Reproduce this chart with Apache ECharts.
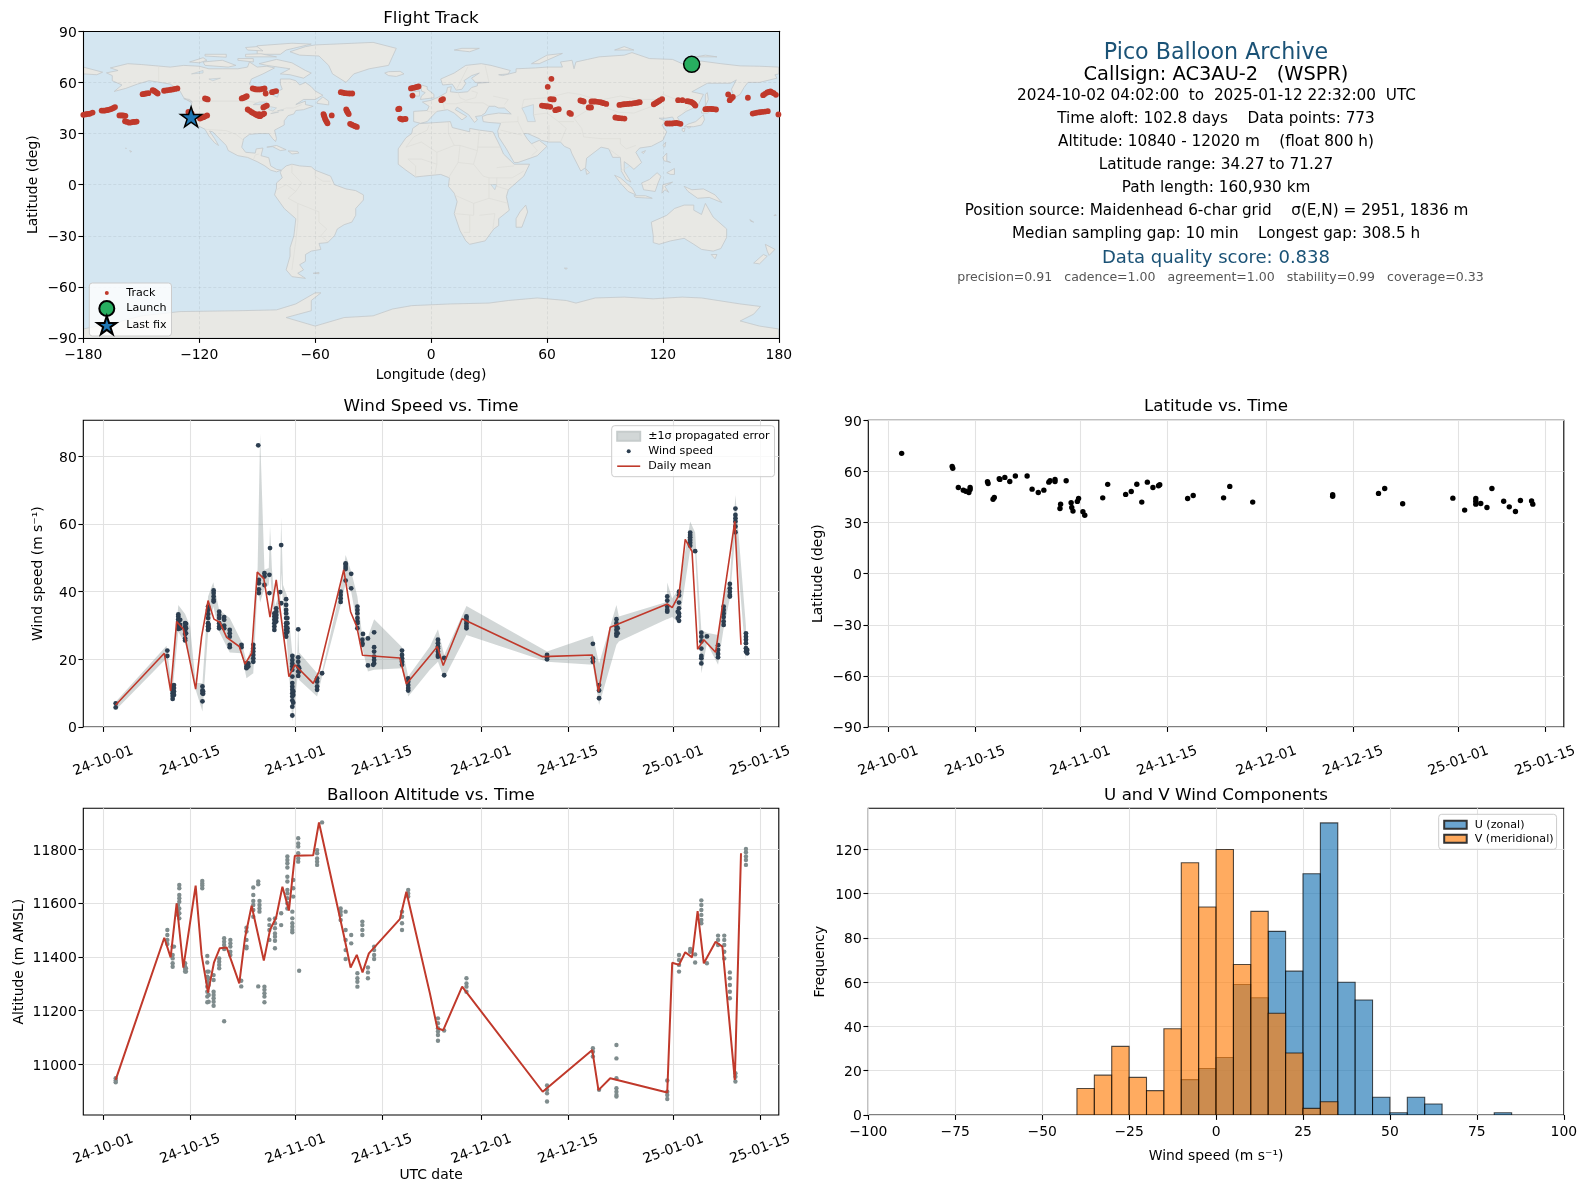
<!DOCTYPE html>
<html>
<head>
<meta charset="utf-8">
<style>html,body{margin:0;padding:0;background:#fff}#c{width:1586px;height:1189px}</style>
<script src="https://cdn.jsdelivr.net/npm/echarts@6/dist/echarts.min.js"></script>
</head>
<body>
<div id="c"></div>
<script>
// ---------- tick labels ----------
const timeTickDays = [0, 14, 31, 45, 61, 75, 92, 106]; // days since 2024-10-01
const timeTickLabels = ['24-10-01','24-10-15','24-11-01','24-11-15','24-12-01','24-12-15','25-01-01','25-01-15'];
const windTicks = [0, 20, 40, 60, 80];
const altTicks = [11000, 11200, 11400, 11600, 11800];
const freqTicks = [0, 20, 40, 60, 80, 100, 120];

// ---------- flight track (lon, lat) ----------
const track = [[-180,41],[-179,41.2],[-178.3,41.4],[-177.4,41.5],[-176.5,41.7],[-175.2,42.3],[-170.5,43.5],[-169.6,43.5],[-168.8,43.5],[-167.9,43.7],[-167,43.9],[-166.1,44.2],[-165.3,44.5],[-164.4,45],[-163.6,45.5],
[-161.3,40.6],[-160.4,40.6],[-159.6,40.6],[-158.9,40.5],[-158.2,40.4],[-158.4,37.2],[-157.3,36.8],[-156.2,36.4],[-155.1,36.6],[-154.1,36.8],[-153.2,36.9],[-152.4,37],[-149.3,53.1],[-148.4,53.3],[-147.5,53.5],[-146.3,53.7],
[-144.1,55.5],[-143.5,55.1],[-142.9,54.7],[-142.2,54.1],[-141.5,53.5],[-138.2,55.1],[-137.1,55.3],[-136,55.5],[-134.8,55.7],[-133.7,55.9],[-132.5,56.2],[-131.3,56.5],[-125.6,42.7],[-123.9,41.7],[-119.6,38.8],[-118.7,39.2],
[-117.8,39.6],[-116.9,40.1],[-115.9,40.6],[-117,50.6],[-116.3,50.3],[-115.6,50],[-98,50.6],[-97.3,50.9],[-96.6,51.2],[-96,51.5],[-95.4,51.9],[-94.9,44.1],[-93.8,43.3],[-92.8,42.5],[-92,42],[-91.1,41.4],[-90.2,40.9],[-89.4,40.4],[-90.5,41.2],[-89,41.4],[-88.5,40.2],
[-88.1,40.8],[-87.2,41.2],[-86.4,41.7],[-86.8,45.3],[-85.9,45.9],[-85,46.4],[-92.3,56.5],[-91.4,56.2],[-90.6,55.9],[-89.5,55.9],[-88.5,55.9],[-87.3,56.2],[-86.2,56.5],[-85.6,53.5],[-82.3,54.3],[-81.3,54.6],[-80.2,54.9],
[-46.7,54.3],[-45.6,54],[-44.5,53.7],[-43.4,53.6],[-42.2,53.5],[-40.8,53.5],[-51.4,40.6],[-55.7,41.4],[-55.4,40.6],[-55.2,39.8],[-54.9,38.8],[-54.5,37.8],[-54,36.9],[-53.6,36],[-43.9,44.1],[-43.6,43.4],[-43.3,42.7],
[-42.9,42],[-42.6,41.4],[-41.9,35.7],[-41,35.2],[-40.1,34.7],[-39.2,34.3],[-38.4,33.9],[-17,44.3],[-16.4,44.6],[-16,38.8],[-15.4,38.5],[-14.8,38.2],[-14,38.4],[-13.2,38.6],[-10.4,56.5],[-9.4,56.8],[-8.5,57],[-7.5,57.3],[-6.5,57.6],[-9.6,52.3],
[5.3,49.6],[6.2,50.2],[62.3,62.1],[60.4,57.4],[57.4,46.4],[58.5,46.2],[59.7,46],[60.7,45.9],[61.7,45.7],[61.7,50.2],[62.6,50.1],[63.5,50],[64.3,43.7],[65.2,44],[66.1,44.3],[71.6,42.1],[72.4,41.5],
[77.3,49.4],[78.2,49.1],[79,48.8],[81.6,45.3],[82.2,45.3],[82.8,45.3],[83,48.8],[84,48.8],[85,48.8],[86.3,48.6],[87.6,48.4],[88.5,48.1],[89.4,47.8],[90.7,47.4],[95.4,39.4],[96.5,39.2],[97.5,39],[98.8,38.9],[100.1,38.8],
[97.5,46.8],[98.6,47],[99.7,47.2],[100.7,47.3],[101.8,47.4],[102.9,47.5],[104,47.6],[105.1,47.8],[106.3,48],[107.2,48.2],[108,48.4],[115.3,47.2],[116.2,47.8],[117,48.4],[117.7,48.9],[118.4,49.4],[119.6,50.2],[127.9,49.6],[130.1,49.6],
[132.5,49],[133.5,48.8],[134.6,48.6],[135.3,48.1],[136,47.6],[136.4,47],[136.8,46.4],[122.2,35.9],[123.5,35.9],[124.8,35.9],[125.9,36.1],[127,36.3],[128,36],[129.1,35.7],[142,44.3],[143.1,44.4],[144.3,44.5],[145.3,44.4],[146.3,44.3],[147.5,44.1],
[153.8,52.9],[154.6,49.6],[155.4,50.5],[156.2,51.5],[164,51],[171.9,52.5],[172.9,53.3],[174,54.1],[174.9,54.4],[175.7,54.7],[176.5,54.2],[177.4,53.7],[178.5,52.7],[166.5,41.7],[167.6,42],[168.8,42.3],[170.1,42.5],[171.4,42.7],[172.9,42.9],[174.3,43.1],[179.8,41.2]];
const launchPoint = [134.9, 70.6];
const lastFixPoint = [-124.2, 39.8];

// ---------- latitude vs time (day, lat) ----------
const latPoints = [[2.15,70.6],[10.3,62.9],[10.4,61.9],[11.3,50.6],[12.1,49],[12.5,48.4],[13,47.6],[13.2,49.4],[13.2,50.6],[16,53.9],[16.1,52.9],[17.1,44.7],[16.9,43.7],
[17.9,55.7],[18,55.3],[18.8,56.5],[19.6,54.1],[20.5,57.3],[22.4,57.3],[23.2,49.6],[24.2,47.6],[25.1,49],[25.9,53.7],[26.1,54.5],[26.9,55.3],[26.9,54.1],[28.7,54.5],
[27.8,40.8],[27.7,38.2],[29.5,41.6],[29.6,38.8],[29.8,36.7],[30.5,42.4],[30.7,44.1],[31.4,36.3],[31.7,34.3],[34.6,44.5],[35.4,52.4],[38.3,46.5],[39.2,48.2],[40.1,52.5],
[40.9,42],[41.8,53.7],[42.7,50.6],[43.6,51.6],[43.8,52.2],[48.3,44.1],[49.2,45.9],[54.1,44.5],[55.1,51.2],[58.8,42],[71.7,45.4],[71.7,46.3],[79.1,47.1],[80.1,50],[83,41],
[91.1,44.3],[93,37.3],[94.8,44.1],[94.8,42.5],[94.8,40.8],[95.6,41.2],[96.6,38.8],[97.4,50],[99.3,42.5],[100.2,39.2],[101.2,36.5],[102,42.9],[103.8,42.7],[104,40.8]];

// ---------- wind speed ----------
const windDays = [2,10.33,11.19,11.4,12.1,12.4,13.2,13.34,16,16.1,16.9,17,17.8,18.7,19.5,20.4,22.3,23.1,23.4,24.2,25,25.1,26,26.8,26.9,27.6,27.9,28.55,28.7,29.5,29.7,30.5,30.65,31.45,31.6,34.5,35.3,38.3,39.1,40,41,41.8,41.9,42.7,43.7,43.55,48.2,49.2,
54,55,58.6,71.6,79,80,82.8,83,91,92.9,92.7,94.7,95.5,96.5,97.4,99.2,100.1,101.1,102,103.7,103.9];
const windValues = [[7,5.8],[22.6,21],[12.1,11.5,10.8,10,9.2,8.3],[12.4,11.5,10.5,9.5],[33.3,32.7,31.9,31.1,30.2,29],[31.7,30.2,29.2],[30.7,29.7,28.7,27.5,26.2,25.6],[30.5,29.2,27.7],
[12,10.8,10,7.6],[10.5,9.8],[35.6,34.6,33.4,32.2,30.7,29.7,28.7],[30.2,29.2],[40.4,39.6,38.6,37.6,37.1],[34.1,33.1,32.2,30.7,29.7,29.2],[32.5,31.7,30,29.2],[28.7,27.7,26.7,24.3,23.6],[24.3,23.6],
[18.8,17.9,17.4],[18.8,17.9],[24.3,23.3,22.3,21.3,20.3,19.3],[83.3],[43.5,42.5,40.7,39.6],[45.5,44.5,42],[45,39.6],[52.9],[28.7,29.7,30.7,31.7,32.7,33.6],[35.1,34.1,33.1,32.2,31.2],[39.9],[53.8,36.6],
[37.8,36.1,34.6,33.6,32.2,30.7,29.7,28.7,27.7,26.7],[32.2,30.7,29.2,28.2],[21,19.8,18.8,17.9,16.9,14.9,13,11.9,11,10,9,7.8,6,3.4],[10.5,9.5,7.2],[28.9,20.6,19.3,17.9,16.4,15.1],[17.4,16.4],
[14.4,13.4,12,11],[15.9],[40,39,38,37],[48.4,48,47.3,46.7,43.3],[45.3,41],[35.6,34.6,33.6,32.2,31.2,30.7,29.2],[25.8,24.8,24.3],[27.5],[26.2,18.2],[28,23.6,22.3,20.8,19.8,18.8],[18.4],[22.6,21.3,20.3,19.3,18.4],[14.4,13.4,12.4,11.5,10.8],
[25.8,24.8,23.8,23.3,22.3,21.3,20.8],[20.4,15.3],[32.7,32.2,31.5,30.7,29.9,29.2],[21.3,20.6,20],[24.6,20.3,19.3],[12.4,10.8,8.5],[31.9,30.7,29.7,28.7,27.7,27],[29.2,27.7],[38.6,37.4,35.6,34.6,34.1],[40,38.9,36.8,35.1,33.6,32.7,31.4],[34.1,32.2],
[57.5,56.8,56.1,55.3,54.5,53.6],[52],[27.9,26.7,25.3,23.2,21,20.3,18.8],[26.8],[24.2,22.8,21.6,20.6],[35.6,34.6,33.6,32.5,31.2,30.2],[42.3,41,40,39,38.6],[64.6,62.7,61.7,60.8,59.3,57.6],[27.7,26.7,25.8,24.8,23.3,22.3],[22.8,21.8]];
const bandDays = [2,10.2,11,12.1,13.2,14,14.9,16,16.9,17.75,18.7,20.4,22.3,23.1,24.2,24.9,25.3,26,26.7,26.9,27.2,27.7,28.5,28.7,29,29.6,30.5,31.3,31.45,31.6,34.5,35.3,38.3,39.1,40,41,41.8,42.7,43.7,48.2,49.2,52.7,54,55,58.6,71.6,79,80,82.8,83.2,90.9,91,91.8,92.9,94.7,95.5,96.5,97.4,99.2,100.1,101.1,102,103.7];
const bandLow = [5,20.3,7.5,28.2,24.8,19.8,11,4.6,27.7,35.6,28.2,22,21.8,14.4,15.9,42,36.8,41,42,46.3,39,27.7,34,45.6,36,25.8,1.6,14,22.8,13.9,9,14.9,36.1,42.5,40,29.7,23.3,16.4,16.9,17.4,9,16.9,19.3,14.4,27.2,19.3,18.4,6.5,24.3,25.3,31.9,31.9,32.5,30.7,52.4,51.4,15.9,24.8,18.4,29.2,38,57.3,19.6];
const bandHigh = [7.5,24,12.9,36.1,33.4,29.7,13,13,38.6,42.8,34.6,32.2,25.3,19.3,25.3,47,86.7,46.5,47,59.5,47,35.6,40,62,42,39,21.8,21,30.7,22,15.9,16.4,41,50.9,46,38.6,26.7,26.7,31.9,23.6,14.9,23.8,28.9,21.3,35.8,22.3,27,18.8,36.1,32.7,37,42.7,38,41,60.8,57.5,28.7,27.9,27.2,39.1,43.5,68.6,29.7];
const windMeanDays = [1.99,9.84,10.86,11.83,12.91,14.9,15.86,16.9,17.85,18.8,19.9,21.94,22.85,23.93,24.84,25.9,26.9,27.9,29.95,30.9,33.87,34.8,38.8,39.9,40.9,41.83,47.85,48.9,52.7,53.9,54.85,57.9,70.9,78.9,79.9,81.8,91,91.8,92.9,93.9,95,95.9,96.9,98.8,101.9,102.9];
const windMean = [6.5,21.8,10.7,31.2,29,11.2,26.7,37.4,31.9,31,26.5,23.8,18.6,21.8,45.8,43.9,32.5,43.5,14.9,18.4,12.9,16.4,46.5,34.1,29.7,21.2,20.4,12.7,21.1,23.8,18.2,32,20.8,21.3,10.5,29.5,36.4,35.3,39.1,55.5,51.9,23,25.8,22.1,60.8,24.3];

// ---------- altitude ----------
const altDays = [2,10.33,11.19,11.4,12.26,12.05,13.2,13.34,15.97,16.78,17,17.8,18.7,19.5,20.5,22.26,23.1,24.2,25,25.2,26,26.8,27.7,28.7,29.7,30.5,30.65,31.45,31.6,34.5,35.3,38.3,39.1,40,41,41.8,42.7,43.7,48.2,49.2,
54,55,58.6,71.6,79,80,82.8,91,92.9,94.7,95.5,96.5,97.4,99.2,100.2,101.1,102,103.7];
const altValues = [[10948,10940,10933],[11500,11481,11463,11448],[11438,11407,11394,11376,11363],[11438],[11667,11655,11630,11618,11605,11580,11562,11543],[11593,11574,11556],[11376,11363,11355,11345],[11357,11345],
[11682,11673,11665,11655],[11403,11379,11345,11326,11307,11289,11270,11252,11231],[11345,11320,11295,11258,11233],[11332,11314,11270,11258,11246,11233,11218],[11394,11382,11370,11357],[11469,11456,11444,11429,11160],[11463,11450,11438,11419,11407],
[11311,11290],[11508,11494,11463,11438,11432],[11658,11630,11608,11593,11574,11549],[11680,11670,11290],[11608,11593,11580,11568],[11289,11277,11264,11252,11231],[11539,11518,11500,11463],[11543,11525,11506,11487,11475,11460,11432],[11562,11518],
[11773,11760,11748,11732,11698,11680,11649,11636,11618,11599,11580],[11568,11543,11525,11512,11500,11491],[11686,11655,11624],[11841,11822,11810,11785,11766,11754],[11348],[11797,11785,11766,11754,11742],[11900],[11580,11568,11556,11537],[11568,11500,11463,11425,11392],[11481,11450],[11339,11320,11307,11289],[11531,11518,11500,11481],[11360,11342,11320],[11438,11425,11407,11392],[11568,11549,11525,11500],[11649,11636,11624],
[11171,11153,11134,11122,11109,11088],[11126],[11320,11301,11289,11270],[10921,10905,10892,10862],[11060,11047,11029],[10905],[11072,11022,10948,10911,10898,10886,10880],[10940,10898,10886,10871],[11407,11388,11370,11345],[11429,11419],[11409,11379],[11610,11593,11574,11556,11537,11525],[11376],[11479,11463,11444],[11479,11463,11444,11419,11394],[11342,11320,11295,11270,11246],[10967,10954,10936],[11801,11789,11773,11760,11742]];
const altMeanDays = [1.99,9.84,10.86,11.83,12.91,14.9,15.86,16.9,17.85,18.8,19.9,21.94,22.85,23.93,25.9,26.9,27.9,28.9,29.95,30.9,33.87,34.8,38.8,39.9,40.9,41.83,42.85,47.85,48.9,52.7,53.9,54.85,57.9,70.9,78.9,79.9,81.8,91,91.8,92.9,93.9,95,95.9,96.9,98.8,99.9,101.9,102.9];
const altMean = [10942,11471,11398,11599,11360,11665,11407,11267,11378,11432,11435,11301,11469,11590,11386,11500,11547,11661,11572,11776,11778,11900,11481,11360,11407,11342,11413,11540,11642,11264,11134,11127,11289,10898,11053,10904,10948,10895,11378,11370,11417,11398,11570,11376,11456,11438,10942,11785];

// ---------- histogram ----------
const histBinStarts = [-40,-35,-30,-25,-20,-15,-10,-5,0,5,10,15,20,25,30,35,40,45,50,55,60,65,70,75,80];
const histBinWidth = 5;
const uCounts = [0,0,0,0,0,0,16,21,26,59,53,83,65,109,132,60,52,8,1,8,5,0,0,0,1];
const vCounts = [12,18,31,17,11,39,114,94,120,68,92,46,28,3,6,0,0,0,0,0,0,0,0,0,0];

// ---------- base map (lon, lat) ----------
const landPolys = [
[[-168,65.6],[-162,67],[-166,68.5],[-157,71],[-150,70.5],[-141,69.6],[-135,69],[-128,70],[-120,69.5],[-115,68],[-108,68],[-100,68],[-95,69],[-94,72],[-90,69],[-85,69.5],[-81,68.5],[-87,65],[-93,62],[-94,59],[-92,57],[-85,55.3],[-82,55],[-82,52.5],[-79.5,51.3],[-79,53],[-79,55],[-77,56],[-78,59],[-78,62],[-73,62],[-70,61],[-68,58.5],[-65,60],[-62,57.5],[-60,55],[-56,52.5],[-60,50],[-66,50],[-70,47],[-65,49],[-65,47],[-61,46],[-66,44],[-70,43.5],[-71,41.5],[-74,40.5],[-76,37.5],[-76,35],[-81,32],[-80,27],[-80.5,25.3],[-82,27],[-84,30],[-89,30],[-94,29.5],[-97,27],[-98,22],[-96,19],[-91,18.5],[-90.5,21],[-87,21.5],[-88,17],[-84,15.8],[-83,11],[-80,9],[-77.5,8.5],[-80,7.5],[-83,8.5],[-86,11],[-90,13.5],[-95,16],[-100,17],[-105,20],[-106,23],[-110,27.5],[-113,31],[-114.7,31.5],[-112,27],[-110,23],[-112,24.5],[-115,28.5],[-117,32.5],[-120.5,34.5],[-124,40],[-124,48],[-128,51],[-130,55],[-135,59],[-140,60],[-146,61],[-152,59],[-158,56.5],[-164,54.7],[-160,58.5],[-165,61],[-165,64]],
[[-80,73.5],[-72,71.5],[-65,67],[-62,65.5],[-66,62.5],[-73,64.5],[-78,65],[-73,68],[-85,70],[-89,71]],
[[-117,70],[-105,69],[-101,70],[-108,73],[-118,72]],[[-125,72],[-118,74.5],[-116,73],[-120,71.5]],[[-90,76.5],[-78,76.5],[-75,79],[-62,82.5],[-72,83],[-90,81.5]],
[[-96,75],[-80,75],[-88,76.8],[-96,76.5]],[[-100,73],[-92,72],[-92,74],[-100,74]],[[-95,79],[-87,78.5],[-90,81],[-96,80.5]],[[-117,75.5],[-106,74.8],[-106,76.5],[-117,76.5]],
[[-59,47.7],[-53,46.8],[-53,49],[-56,51.5],[-59,48.5]],[[-128,50.5],[-123.5,48.5],[-125,50]],
[[-73,78],[-68,76],[-58,75.5],[-53,70],[-51,65],[-44,60],[-40,65],[-32,68],[-22,70],[-20,75],[-18,80],[-30,83.5],[-60,82],[-65,81]],
[[-24,65.5],[-22,64],[-18,63.5],[-14,65],[-16,66.5],[-22,66.3]],[[12,79],[20,78],[25,80],[16,80]],
[[-85,22],[-80,23],[-75,20.5],[-78,20],[-82,22.3]],[[-74,19.8],[-69,19.5],[-68.5,18.5],[-72,18]],[[-156,20],[-155,19.5],[-155.5,19]],[[-158.2,21.5],[-157.7,21.3],[-158,21.2]],
[[-77.5,8.5],[-75,11],[-72,12],[-68,11],[-62,10.5],[-60,8.5],[-52,5],[-50,0],[-44,-2.5],[-39,-3.5],[-35,-6],[-35,-9],[-39,-14],[-39,-18],[-41,-22],[-45,-23.5],[-48.5,-26],[-50,-30],[-53.5,-34],[-58,-34.5],[-57,-38],[-62,-39],[-65,-41],[-65,-45],[-68,-47],[-66,-50],[-69,-52],[-65,-55],[-72,-54],[-75,-50],[-73,-42],[-73,-37],[-71,-30],[-70,-20],[-76,-14],[-81,-6],[-80,-2],[-80,1],[-77,4],[-78,7]],
[[-61,-52],[-58,-51.5],[-58,-52.3]],
[[-9,37],[-9,43],[-2,43.5],[-1,46],[-4.5,48.5],[0,49.5],[4,51.5],[8,54],[8.5,57],[10.5,57.5],[10,54.5],[14,54],[19,54.5],[21,57],[24,58],[24,59.5],[30,60],[23,60],[21,62.5],[25,65.5],[21,64],[17,61],[18,59.5],[16,56],[13,55.5],[11,59],[6,58.5],[5,62],[12,65.5],[18,70],[26,71],[31,70],[41,67],[40,65],[35,64.5],[37,64],[44,66],[44,68],[54,68.5],[60,69],[68,69],[67,72],[73,73],[74,68],[75,72],[81,73.5],[87,75],[100,76],[104,77.5],[113,74],[125,73.5],[130,71],[140,72.5],[150,71],[160,69.7],[170,69.5],[180,69],[180,65],[178,64.5],[179,62.5],[170,60],[164,60],[162,57],[160,53],[157,51],[155.5,56],[158,61.5],[155,59.5],[143,59.5],[135,54.5],[141,53],[138,46],[132,43],[129.5,41],[127.5,39.5],[129.5,36],[126.5,34.5],[126,37.5],[125,39.7],[121.5,39],[118,39],[122,37],[119.5,35],[122,31],[120,26],[114,22.5],[108,21.5],[106,19],[109,13],[105,9],[103,11],[100,13.5],[100,8],[103.5,1.5],[101,3],[98.5,8],[98,16],[94,16],[92,21],[88,22],[80.5,15.5],[80,10],[77.5,8],[73,18],[72,21],[69,22.5],[67,25],[61,25],[57,26],[56,27],[50,30],[48,30],[50,26.5],[52,24],[56,26],[60,22.5],[55,17],[45,13],[43,13],[39,21],[35,28],[34.5,31.5],[36,36],[30,36.5],[27,37],[26.5,40],[29,41],[35,42],[41.5,41.5],[38,45],[35,45],[33,46],[30,46],[28,42],[26,40.5],[23,40],[24,38],[22.5,36.5],[19.5,41],[13.5,45.5],[12.5,44],[18.5,40],[16,38],[12,42],[8.5,44],[3,43],[0,39.5],[-2,37],[-5.5,36]],
[[-180,69],[-175,67.5],[-170,66],[-173,64.5],[-180,65]],
[[-5.5,50],[1.5,51],[1.5,53],[-2,56],[-2,57.5],[-5,58.5],[-5,55],[-3,54],[-5,52]],[[-10,52],[-6,52],[-6,55],[-9,54.5]],
[[52,71],[56,71],[68,77],[60,76]],[[95,79],[105,79],[100,81]],[[137,75],[148,75],[142,76]],[[142,46],[143.5,50],[143,54],[142,53],[142,48]],
[[140,42],[143,42],[145,43.5],[142,45.5],[140,43]],[[131,34],[136,34],[140,35],[141.5,38],[141,41],[140,40],[137,37],[133,35.5]],[[130,33],[131.5,33],[131,31],[130,31.5]],[[132.5,34],[134.5,34],[133.5,33]],
[[120,23],[121.5,25],[121,22]],[[109,19],[111,20],[110,18.3]],[[120,16],[122,18.5],[122,14],[124,13],[120.5,14]],[[122,7],[126,9.5],[126,6],[124,6]],[[80,9.5],[82,7],[80.5,6]],
[[95,5.5],[98,4],[104,-2],[106,-6],[102,-4],[98,1]],[[105,-6.5],[111,-6.5],[114.5,-8],[106,-7.5]],[[109,1],[113,3],[117,7],[119,5],[117.5,1],[116,-4],[110,-3]],[[119.5,-5],[120,0],[125,1.5],[121,-1],[123,-4.5],[121,-3]],
[[131,-1],[135,-3],[141,-2.5],[147,-6],[150.5,-10.5],[144,-7.5],[138,-8],[133,-4]],
[[114,-22],[122,-18],[126,-14],[131,-12],[136,-12],[136,-15],[140,-17.5],[142,-11],[146,-19],[153,-26],[153,-31],[150,-37.5],[146,-39],[140,-38],[136,-35],[131,-31.5],[124,-33],[118,-35],[115,-34],[115,-30]],
[[145,-41],[148,-41],[147,-43.5]],[[173,-35],[178,-38],[175,-41.5],[174,-39]],[[172,-41],[174,-42],[170,-46.5],[167,-46]],[[49,-12],[50,-16],[47,-25],[44,-25],[44,-20],[46,-16]],
[[-6,35.8],[10,37],[11,33.5],[20,31],[20,33],[25,32],[32,31],[32.5,30],[36,22],[37.5,18],[43,12],[51,12],[48,5],[40,-3],[39,-7],[40.5,-15],[35,-20],[35,-24],[32.5,-26],[28,-33],[20,-35],[18,-33],[15,-27],[12,-17],[13.5,-10],[12,-5],[9,-1],[9.5,4],[5,6],[-4,5],[-8,4.5],[-13,8.5],[-17,12],[-17,21],[-13,27.5],[-10,30],[-9.5,33]],
[[-180,-84.7],[-160,-80],[-150,-77],[-130,-74.5],[-100,-74],[-80,-73.5],[-70,-70],[-60,-63.5],[-57,-63.5],[-62,-68],[-62,-74],[-75,-78],[-60,-83],[-45,-78],[-30,-77],[-20,-73],[-10,-71],[10,-70],[30,-69.5],[40,-68],[55,-66.5],[70,-68],[75,-69.5],[85,-66.5],[100,-66],[115,-67],[130,-66],[140,-66.5],[160,-70],[170.5,-71.5],[167,-76],[160,-80],[170,-83],[180,-84.7],[180,-90],[-180,-90]],
[[69,-49],[70.5,-49],[70,-49.7]],[[165,-20.5],[167,-22],[165.5,-21.5]],[[178,-17.5],[178.7,-18],[177.5,-18.2]]
];
const waterPolys = [
[[47,45],[53,47],[53,41],[54,37],[50,37],[49,40.5]],[[58.5,46.5],[61.5,46],[59.5,44]],
[[-92,47],[-85,47],[-85,48.5],[-89,48.5]],[[-87.5,42],[-85.5,45],[-87,45.5]],[[-84,46],[-80,45],[-82,43.2],[-84,44]],[[-83,41.7],[-79,42.8],[-79,42.5]],[[-79.5,43.3],[-76.5,43.5],[-76.5,44.2]],
[[-124,65],[-118,67],[-118,65.5]],[[-115,62],[-109,62.5],[-113,61]],[[31,0],[34,0],[33,-3]]
];
const borderLines = [
[[-141,69.6],[-141,60]],[[-123,49],[-95,49],[-89,48],[-83,46],[-82,43],[-79,43],[-75,45],[-71,45],[-67,47]],[[-117,32.5],[-106,31.7],[-101,29.5],[-97,26]],[[-92,14.5],[-91,17.5],[-89,18]],
[[-72,12],[-72,7],[-67,1],[-70,-4],[-74,-8],[-69,-11],[-58,-16],[-58,-22],[-54,-26],[-57,-30],[-53,-34]],[[-69,-11],[-69,-22],[-70,-33],[-72,-50]],[[-60,8],[-60,5],[-56,2],[-52,2]],[[-80,-3],[-75,0],[-70,-4]],
[[2,51],[6,49],[8,47.5],[13,47.5],[17,48.5],[22,48],[27,48],[30,46]],[[14,54],[15,51],[18,49.5],[23,51],[24,54],[21,55]],[[6,49],[7,44]],[[-2,43],[3,42.5]],[[28,70],[30,60]],[[13,55.5],[19,69]],
[[32,52],[40,50],[38,47]],[[47,45],[48,50],[60,51],[71,54],[77,53],[87,49.5],[98,52],[107,50],[117,50],[120,53],[127,50],[135,48],[131,43]],[[87,49.5],[80,43],[74,39],[78,33],[79,28],[88,27],[98,27],[98,24],[101,21],[106,23]],[[91,45],[97,42.5],[105,42],[112,45],[117,47]],
[[53,41],[60,42],[66,37],[74,37]],[[61,35],[61,25]],[[66,37],[70,33],[67,25]],[[45,37],[45,40]],[[48,30],[45,37],[36,36.5]],[[36,32],[47,29]],[[52,24],[55,20],[52,17]],[[92,21],[98,16]],[[98,8],[103,11]],
[[-9,28],[-2,32],[-1,35]],[[-9,28],[-13,22],[-5,25],[3,19],[12,23],[15,23],[24,20],[25,32]],[[9,37],[9,30],[12,23]],[[24,22],[36,22]],[[24,20],[22,12],[27,5],[30,4],[34,4],[42,4],[48,8]],[[15,23],[14,13],[9,4]],[[3,19],[3,12],[2,6]],[[-12,15],[-5,15],[3,12]],[[14,13],[22,12]],[[-8,4.5],[-8,11],[-12,15]],[[34,10],[43,11]],
[[30,4],[30,-8],[22,-11],[12,-6]],[[22,-11],[22,-18],[12,-17]],[[20,-18],[20,-28],[17,-28]],[[34,4],[34,-1],[40,-3]],[[30,-8],[40,-11]],[[25,-18],[33,-17],[32,-26]]
];

// ---------- text ----------
const infoLines = [
  ['Pico Balloon Archive', 53.5, 22.2, '#1a5276', 1216],
  ['Callsign: AC3AU-2   (WSPR)', 75.2, 19.4, '#000', 1216],
  ['2024-10-02 04:02:00  to  2025-01-12 22:32:00  UTC', 96.5, 15.28, '#000', 1216.5],
  ['Time aloft: 102.8 days    Data points: 773', 119.5, 15.28, '#000', 1216],
  ['Altitude: 10840 - 12020 m    (float 800 h)', 142, 15.28, '#000', 1216],
  ['Latitude range: 34.27 to 71.27', 165, 15.28, '#000', 1216],
  ['Path length: 160,930 km', 188, 15.28, '#000', 1216],
  ['Position source: Maidenhead 6-char grid    \u03c3(E,N) = 2951, 1836 m', 211.5, 15.28, '#000', 1216.5],
  ['Median sampling gap: 10 min    Longest gap: 308.5 h', 234.5, 15.28, '#000', 1216],
  ['Data quality score: 0.838', 258.7, 18.05, '#1a5276', 1216],
  ['precision=0.91   cadence=1.00   agreement=1.00   stability=0.99   coverage=0.33', 278, 12.55, '#555', 1220.5]
];
const panelTitles = [['Flight Track',431,18.5],['Wind Speed vs. Time',431,407],['Latitude vs. Time',1216,407],['Balloon Altitude vs. Time',431,796],['U and V Wind Components',1216,796]];

// ---------- helpers ----------
const FONT = 'DejaVu Sans';
const W = 695.5, H = 306.7;
const grids = [[83.3,31.3],[83.3,420.3],[868.3,420.3],[83.3,808.3],[868.3,808.3]];
const minus = v => String(v).replace('-', '\u2212');
const gridLine = {show:true, lineStyle:{color:'#e2e2e2', width:1.1}};
const tick = {show:true, length:4.9, inside:false, lineStyle:{color:'#000', width:1.1}};
const label = {color:'#000', fontSize:13.9, fontFamily:FONT, margin:6.5, verticalAlign:'top', lineHeight:3.5, formatter:minus};
const xLabel = {color:'#000', fontSize:13.9, fontFamily:FONT, margin:10, formatter:minus};
const nameStyle = {color:'#000', fontSize:13.9, fontFamily:FONT};
const noLine = {show:false, onZero:false};
function timeAxis(gridIndex, name) {
  return {type:'value', gridIndex, min:-3.23, max:109, name:name||'', nameLocation:'middle', nameGap:51, nameTextStyle:nameStyle,
    axisLine:noLine, axisTick:Object.assign({},tick,{customValues:timeTickDays}), splitLine:gridLine,
    axisLabel:{color:'#000', fontSize:13.9, fontFamily:FONT, rotate:20, align:'center', verticalAlign:'middle', margin:34,
      customValues:timeTickDays, formatter:v=>timeTickLabels[timeTickDays.indexOf(v)]||''}};
}
function valueAxis(gridIndex, name, min, max, ticks, gap) {
  return {type:'value', gridIndex, min, max, name, nameLocation:'middle', nameGap:gap, nameTextStyle:nameStyle, axisLine:noLine,
    axisTick:Object.assign({},tick,{customValues:ticks}), splitLine:gridLine, axisLabel:Object.assign({},label,{customValues:ticks})};
}
const flatten = (days, cols) => days.flatMap((d,i)=>cols[i].map(v=>[d,v]));
const zip = (a,b) => a.map((v,i)=>[v,b[i]]);
const STAR = 'M10,0L12.25,6.91L19.51,6.91L13.63,11.18L15.88,18.09L10,13.82L4.12,18.09L6.37,11.18L0.49,6.91L7.75,6.91Z';
const legendBase = {orient:'vertical', selectedMode:false, backgroundColor:'rgba(255,255,255,0.8)', borderColor:'#ccc', borderWidth:1, borderRadius:3, z:20,
  textStyle:{color:'#000', fontSize:11.1, fontFamily:FONT, padding:[0,0,0,3]}};
function polyRender(list, style) {
  return (p, api) => ({type:'polygon', shape:{points:list[p.dataIndex].map(c=>api.coord(c))}, style});
}
function histRender(counts, fill) {
  return (p, api) => {
    const c = counts[p.dataIndex]; if (!c) return null;
    const s = histBinStarts[p.dataIndex];
    const a = api.coord([s, c]), b = api.coord([s+histBinWidth, 0]);
    return {type:'rect', shape:{x:a[0], y:a[1], width:b[0]-a[0], height:b[1]-a[1]}, style:{fill, stroke:'rgba(0,0,0,0.68)', lineWidth:1.1}};
  };
}
const mapGrid = {show:true, lineStyle:{color:'rgba(110,120,125,0.16)', width:0.8, type:[3,2]}};
const edge = {show:true, onZero:false, lineStyle:{color:'#000', width:1.1}};

// ---------- option ----------
const option = {
  animation:false, backgroundColor:'#fff', textStyle:{fontFamily:FONT},
  title: panelTitles.map(t=>({text:t[0], left:t[1], top:t[2], textAlign:'center', textVerticalAlign:'middle', padding:0,
      textStyle:{fontSize:16.7, fontWeight:'normal', color:'#000', fontFamily:FONT}}))
    .concat(infoLines.map(l=>({text:l[0], left:l[4], top:l[1], textAlign:'center', textVerticalAlign:'middle', padding:0,
      textStyle:{fontSize:l[2], fontWeight:'normal', color:l[3], fontFamily:FONT}}))),
  grid: grids.map((g,i)=>({left:g[0], top:g[1], width:W, height:H, show:true, z:i?0:-5, containLabel:false,
    backgroundColor:i?'#fff':'#d4e6f1', borderColor:i?'#000':'transparent', borderWidth:i?1.1:0})),
  legend: [
    Object.assign({}, legendBase, {left:89.3, top:283, itemWidth:23, itemHeight:20, itemGap:-5.5, padding:[0,5,0,5],
      data:[
        {name:'Track', icon:'path://M0,0M23,20M9.5,10a2,2 0 1,0 4,0a2,2 0 1,0 -4,0Z'},
        {name:'Launch', icon:'path://M0,0M23,20M4,10a7.5,7.5 0 1,0 15,0a7.5,7.5 0 1,0 -15,0Z'},
        {name:'Last fix', icon:'path://M-1.5,-1M21.5,19M10,0L12.25,6.91L19.51,6.91L13.63,11.18L15.88,18.09L10,13.82L4.12,18.09L6.37,11.18L0.49,6.91L7.75,6.91Z'}
      ]}),
    Object.assign({}, legendBase, {left:611.7, top:425.7, itemWidth:23, itemHeight:9, itemGap:4, padding:[5,5,5,4.5],
      data:[
        {name:'\u00b11\u03c3 propagated error', icon:'rect'},
        {name:'Wind speed', icon:'path://M0,0M23,9M9.5,4.5a2,2 0 1,0 4,0a2,2 0 1,0 -4,0Z'},
        {name:'Daily mean', icon:'path://M0,0M23,9M0,3.7H23V5.3H0Z'}
      ]}),
    Object.assign({}, legendBase, {left:1438.7, top:814.3, itemWidth:22.5, itemHeight:8, itemGap:3, padding:[5,3,5,4.5],
      data:[{name:'U (zonal)', icon:'rect'},{name:'V (meridional)', icon:'rect'}]})
  ],
  xAxis: [
    {type:'value', gridIndex:0, min:-180, max:180, interval:60, z:1, name:'Longitude (deg)', nameLocation:'middle', nameGap:30, nameTextStyle:nameStyle,
      axisLine:edge, axisTick:tick, axisLabel:xLabel, splitLine:mapGrid},
    timeAxis(1), timeAxis(2), timeAxis(3,'UTC date'),
    {type:'value', gridIndex:4, min:-100, max:100, interval:25, name:'Wind speed (m s\u207b\u00b9)', nameLocation:'middle', nameGap:34, nameTextStyle:nameStyle,
      axisLine:noLine, axisTick:tick, axisLabel:xLabel, splitLine:gridLine},
    {type:'value', gridIndex:0, position:'top', min:-180, max:180, z:1, axisLine:edge, axisTick:{show:false}, axisLabel:{show:false}, splitLine:{show:false}}
  ],
  yAxis: [
    {type:'value', gridIndex:0, min:-90, max:90, interval:30, z:1, name:'Latitude (deg)', nameLocation:'middle', nameGap:43, nameTextStyle:nameStyle,
      axisLine:edge, axisTick:tick, axisLabel:label, splitLine:mapGrid},
    valueAxis(1,'Wind speed (m s\u207b\u00b9)',0,90.7,windTicks,38),
    valueAxis(2,'Latitude (deg)',-90,90,[-90,-60,-30,0,30,60,90],43),
    valueAxis(3,'Altitude (m AMSL)',10811.5,11952.5,altTicks,57),
    valueAxis(4,'Frequency',0,138.6,freqTicks,41),
    {type:'value', gridIndex:0, position:'right', min:-90, max:90, z:1, axisLine:edge, axisTick:{show:false}, axisLabel:{show:false}, splitLine:{show:false}}
  ],
  series: [
    {type:'custom', name:'land', xAxisIndex:0, yAxisIndex:0, z:0, clip:true, silent:true, data:landPolys.map((p,i)=>[i]),
      renderItem:polyRender(landPolys,{fill:'#e8e8e4', stroke:'#c3c8ca', lineWidth:0.8})},
    {type:'custom', name:'water', xAxisIndex:0, yAxisIndex:0, z:0, clip:true, silent:true, data:waterPolys.map((p,i)=>[i]),
      renderItem:polyRender(waterPolys,{fill:'#d4e6f1', stroke:'#c3c8ca', lineWidth:0.6})},
    {type:'custom', name:'borders', xAxisIndex:0, yAxisIndex:0, z:0, clip:true, silent:true, data:borderLines.map((p,i)=>[i]),
      renderItem:(p,api)=>({type:'polyline', shape:{points:borderLines[p.dataIndex].map(c=>api.coord(c))}, style:{fill:'none', stroke:'#dcdcd8', lineWidth:0.7}})},
    {type:'scatter', name:'Track', xAxisIndex:0, yAxisIndex:0, z:3, symbolSize:5.8, itemStyle:{color:'#c0392b', opacity:1}, data:track},
    {type:'scatter', name:'Launch', xAxisIndex:0, yAxisIndex:0, z:4, symbolSize:16, itemStyle:{color:'#27ae60', borderColor:'#000', borderWidth:1.5, opacity:1}, data:[launchPoint]},
    {type:'scatter', name:'Last fix', xAxisIndex:0, yAxisIndex:0, z:4, symbol:'path://'+STAR, symbolKeepAspect:true, symbolSize:21, itemStyle:{color:'#1f77b4', borderColor:'#000', borderWidth:1.5, opacity:1}, data:[lastFixPoint]},

    {type:'custom', name:'\u00b11\u03c3 propagated error', xAxisIndex:1, yAxisIndex:1, z:1, clip:true, itemStyle:{color:'#d2d7d7', borderColor:'#c6cccc', borderWidth:1}, data:[[0]],
      renderItem:(p,api)=>({type:'polygon', shape:{points:zip(bandDays,bandHigh).concat(zip(bandDays,bandLow).reverse()).map(c=>api.coord(c))}, style:{fill:'rgba(127,140,141,0.35)'}})},
    {type:'scatter', name:'Wind speed', xAxisIndex:1, yAxisIndex:1, z:2, symbolSize:4.8, itemStyle:{color:'#2c3e50', opacity:1}, data:flatten(windDays,windValues)},
    {type:'line', name:'Daily mean', xAxisIndex:1, yAxisIndex:1, z:3, symbol:'none', lineStyle:{color:'#c0392b', width:1.6}, itemStyle:{color:'#c0392b'}, data:zip(windMeanDays,windMean)},

    {type:'scatter', name:'lat', xAxisIndex:2, yAxisIndex:2, z:2, symbolSize:5.4, itemStyle:{color:'#000', opacity:1}, data:latPoints},

    {type:'scatter', name:'alt', xAxisIndex:3, yAxisIndex:3, z:2, symbolSize:4.4, itemStyle:{color:'#7f8c8d', opacity:1}, data:flatten(altDays,altValues)},
    {type:'line', name:'altMean', xAxisIndex:3, yAxisIndex:3, z:3, symbol:'none', lineStyle:{color:'#c0392b', width:2}, data:zip(altMeanDays,altMean)},

    {type:'custom', name:'U (zonal)', xAxisIndex:4, yAxisIndex:4, z:2, clip:true, itemStyle:{color:'#6ba4cf', borderColor:'#333', borderWidth:1.1}, data:histBinStarts.map((s,i)=>[i]),
      renderItem:histRender(uCounts,'rgba(31,119,180,0.66)')},
    {type:'custom', name:'V (meridional)', xAxisIndex:4, yAxisIndex:4, z:3, clip:true, itemStyle:{color:'#ffa95c', borderColor:'#333', borderWidth:1.1}, data:histBinStarts.map((s,i)=>[i]),
      renderItem:histRender(vCounts,'rgba(255,127,14,0.66)')}
  ]
};
const chart = echarts.init(document.getElementById('c'), null, {renderer:'canvas'});
chart.setOption(option);
</script>
</body>
</html>
